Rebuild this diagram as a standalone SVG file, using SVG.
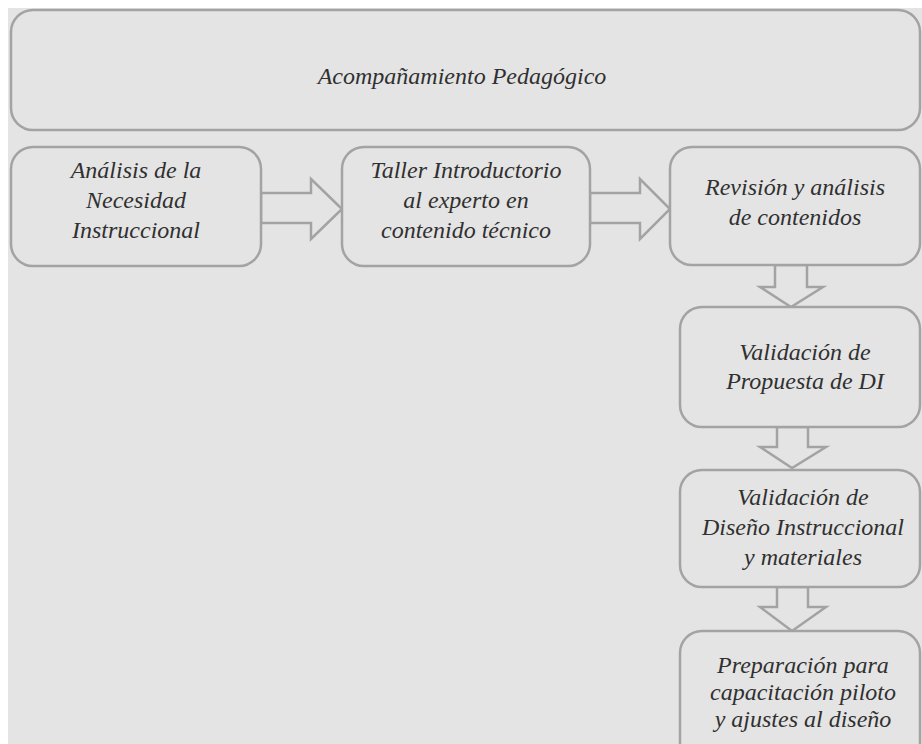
<svg xmlns="http://www.w3.org/2000/svg" width="922" height="744" viewBox="0 0 922 744">
<style>
.box{fill:#e4e4e4;stroke:#a3a3a3;stroke-width:2.5}
.arr{fill:#e4e4e4;stroke:#a3a3a3;stroke-width:2.5;stroke-linejoin:miter}
text{font-family:"Liberation Serif","Times New Roman",serif;font-style:italic;font-size:24px;fill:#303030;text-anchor:middle}
</style>
<rect x="0" y="0" width="922" height="744" fill="#ffffff"/>
<rect x="8" y="8" width="914" height="736" fill="#e4e4e4"/>
<g id="connectors">
<polygon class="arr" points="261,193 311,193 311,179 342,209 311,239 311,223 261,223"/>
<polygon class="arr" points="590,193 640,193 640,179 670,209 640,239 640,223 590,223"/>
<polygon class="arr" points="775,265 807,265 807,287 823,287 791,307 760,287 775,287"/>
<polygon class="arr" points="777,427 808,427 808,447 826,447 792,468 760,447 777,447"/>
<polygon class="arr" points="777,587 808,587 808,607 826,607 792,631 760,607 777,607"/>
</g>
<g id="n0"><rect class="box" x="11" y="10" width="909" height="120" rx="22"/>
<text x="462" y="84">Acompañamiento Pedagógico</text></g>
<g id="n1"><rect class="box" x="11" y="147" width="250" height="119" rx="22"/>
<text x="136" y="178">Análisis  de la</text><text x="136" y="208">Necesidad</text><text x="136" y="238">Instruccional</text></g>
<g id="n2"><rect class="box" x="342" y="147" width="248" height="119" rx="22"/>
<text x="466" y="178">Taller Introductorio</text><text x="466" y="208">al experto en</text><text x="466" y="238">contenido técnico</text></g>
<g id="n3"><rect class="box" x="670" y="147" width="250" height="118" rx="22"/>
<text x="795" y="195">Revisión y análisis</text><text x="795" y="225">de contenidos</text></g>
<g id="n4"><rect class="box" x="680" y="307" width="240" height="120" rx="22"/>
<text x="805" y="360">Validación de</text><text x="805" y="389">Propuesta de DI</text></g>
<g id="n5"><rect class="box" x="680" y="470" width="240" height="117" rx="22"/>
<text x="803" y="505">Validación de</text><text x="803" y="535">Diseño Instruccional</text><text x="803" y="565">y  materiales</text></g>
<g id="n6"><rect class="box" x="680" y="631" width="240" height="140" rx="22"/>
<text x="803" y="673">Preparación para</text><text x="803" y="700">capacitación piloto</text><text x="803" y="727">y ajustes al diseño</text></g>
</svg>
